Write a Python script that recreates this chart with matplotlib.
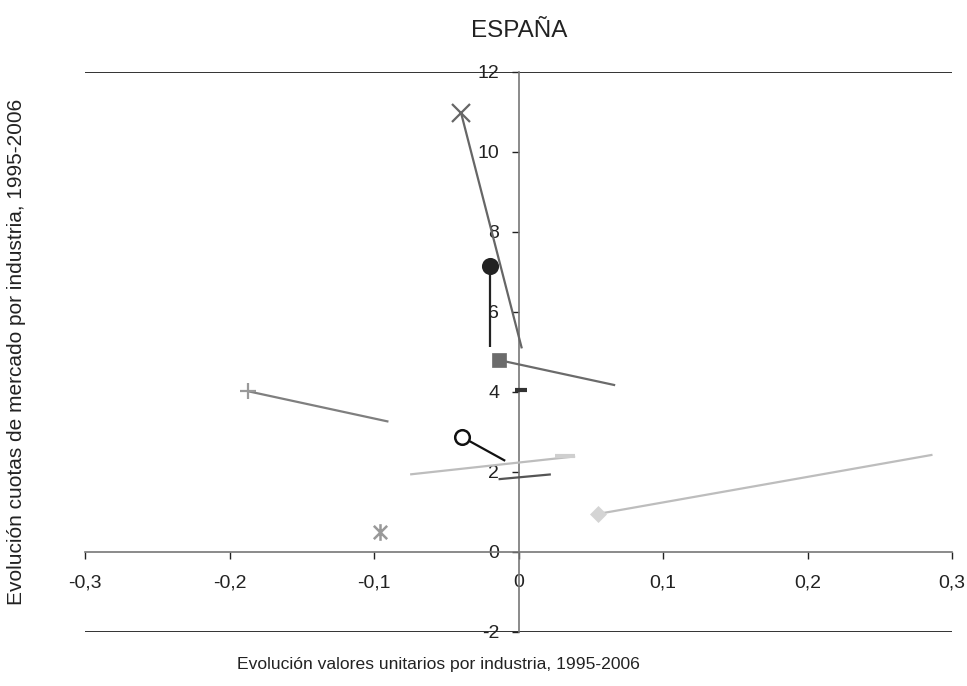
import matplotlib
matplotlib.use("Agg")
import matplotlib.pyplot as plt
from matplotlib.path import Path
import numpy as np

plt.rcParams['font.family'] = ['Liberation Sans', 'DejaVu Sans']

title = "ESPAÑA"
xlabel = "Evolución valores unitarios por industria, 1995-2006"
ylabel = "Evolución cuotas de mercado por industria, 1995-2006"

x_ticks = [-0.3, -0.2, -0.1, 0.0, 0.1, 0.2, 0.3]
x_tick_labels = ["-0,3", "-0,2", "-0,1", "0", "0,1", "0,2", "0,3"]
y_ticks = [-2, 0, 2, 4, 6, 8, 10, 12]
y_tick_labels = ["-2", "0", "2", "4", "6", "8", "10", "12"]

# Marked points (one per industry)
pt_x = [-0.0397, -0.0196, -0.0138, 0.0019, -0.1873, -0.0388, 0.0325, -0.0957, 0.0547]
pt_y = [10.97, 7.15, 4.80, 4.04, 4.02, 2.87, 2.39, 0.51, 0.95]
pt_marker = ['x', 'o', 's', '_', '+', 'o', '_', 'ast', 'D']
pt_color = ['#666666', '#222222', '#6b6b6b', '#333333', '#999999', '#111111', '#cfcfcf', '#999999', '#d4d4d4']
pt_face = ['#666666', '#222222', '#6b6b6b', '#333333', '#999999', 'white', '#cfcfcf', '#999999', '#d4d4d4']

# Line segments (start and end)
seg_x0 = [-0.0397, -0.0196, -0.0138, -0.1873, -0.0388, -0.0750, -0.0138, 0.0547]
seg_y0 = [10.97, 7.15, 4.80, 4.02, 2.87, 1.94, 1.82, 0.95]
seg_x1 = [0.0023, -0.0196, 0.0669, -0.0900, -0.0092, 0.0392, 0.0224, 0.2865]
seg_y1 = [5.09, 5.13, 4.17, 3.26, 2.28, 2.39, 1.94, 2.43]
seg_color = ['#666666', '#222222', '#6b6b6b', '#7f7f7f', '#111111', '#bdbdbd', '#555555', '#bdbdbd']

# asterisk marker path
ast_verts = [(0, -1), (0, 1), (-0.8, -0.8), (0.8, 0.8), (-0.8, 0.8), (0.8, -0.8)]
ast_codes = [Path.MOVETO, Path.LINETO] * 3
ast_path = Path(ast_verts, ast_codes)

fig = plt.figure(figsize=(9.67, 6.86), dpi=100)
ax = fig.add_axes([85/967, 1-632/686, (952-85)/967, (632-72)/686])

ax.set_xlim(-0.3, 0.3)
ax.set_ylim(-2, 12)

for x0, y0, x1, y1, c in zip(seg_x0, seg_y0, seg_x1, seg_y1, seg_color):
    ax.plot([x0, x1], [y0, y1], color=c, lw=1.6, solid_capstyle='butt', zorder=3)

for x, y, m, c, f in zip(pt_x, pt_y, pt_marker, pt_color, pt_face):
    kw = dict(color=c, markerfacecolor=f, markeredgecolor=c, zorder=4, linestyle='none')
    if m == 'x':
        ax.plot([x], [y], marker='x', ms=13, mew=1.6, **kw)
    elif m == '+':
        ax.plot([x], [y], marker='+', ms=12, mew=1.6, **kw)
    elif m == 'ast':
        ax.plot([x], [y], marker=ast_path, ms=12, mew=1.8, **kw)
    elif m == 'o':
        ax.plot([x], [y], marker='o', ms=10.5, mew=1.8, **kw)
    elif m == 's':
        ax.plot([x], [y], marker='s', ms=10, mew=0.5, **kw)
    elif m == 'D':
        ax.plot([x], [y], marker='D', ms=8.5, mew=0.5, **kw)
    elif m == '_':
        w = 14 if c == '#cfcfcf' else 8
        ax.plot([x], [y], marker='_', ms=w, mew=3, **kw)

# spines: axes crossing at origin
for s in ['top', 'right']:
    ax.spines[s].set_visible(False)
ax.spines['left'].set_position(('data', 0))
ax.spines['bottom'].set_position(('data', 0))
ax.spines['left'].set_color('#777777')
ax.spines['bottom'].set_color('#777777')
ax.spines['left'].set_linewidth(1.2)
ax.spines['bottom'].set_linewidth(1.2)
ax.axhline(12, color='#222222', lw=1.3, zorder=1)
ax.axhline(-2, color='#222222', lw=1.3, zorder=1)

ax.set_xticks(x_ticks)
ax.set_xticklabels(x_tick_labels)
ax.set_yticks(y_ticks)
ax.set_yticklabels(y_tick_labels)
ax.tick_params(axis='x', direction='out', length=5, width=1, color='#222222',
               labelsize=14, pad=11, labelcolor='#222222')
ax.tick_params(axis='y', direction='out', length=5, width=1, color='#222222',
               labelsize=14, pad=9, labelcolor='#222222')

fig.text(519/967, 1 - 31/686, title, ha='center', va='center',
         fontsize=17.5, color='#222222')
fig.text(438/967, 1 - 664/686, xlabel, ha='center', va='center', fontsize=12.6, color='#222222')
fig.text(17/967, 1 - 352/686, ylabel, ha='center', va='center', rotation=90,
         fontsize=15, color='#222222')

fig.savefig("out.png", dpi=100)
